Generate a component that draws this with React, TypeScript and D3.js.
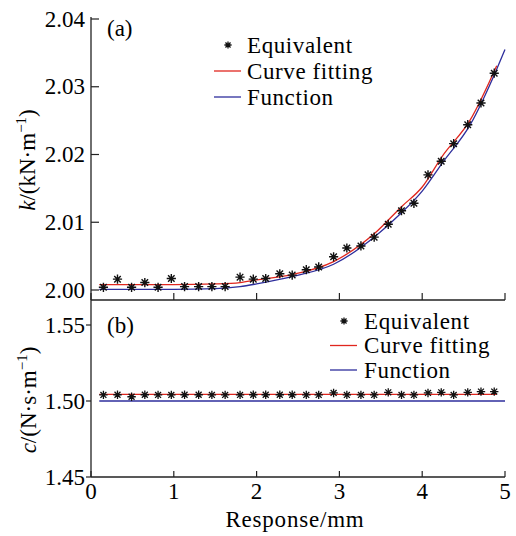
import React from 'react';
import * as d3 from 'd3';

// response positions of the "equivalent" samples (mm)
const X_EQ = [0.15, 0.32, 0.49, 0.65, 0.81, 0.97, 1.13, 1.30, 1.46, 1.62, 1.80, 1.96, 2.11, 2.28, 2.43, 2.60, 2.75, 2.93, 3.09, 3.26, 3.42, 3.59, 3.75, 3.90, 4.07, 4.23, 4.38, 4.55, 4.71, 4.87];
const K_EQ = [2.0004, 2.0016, 2.0004, 2.0011, 2.0004, 2.0017, 2.0005, 2.0005, 2.0005, 2.0005, 2.0019, 2.0016, 2.0017, 2.0024, 2.0022, 2.0030, 2.0034, 2.0049, 2.0062, 2.0065, 2.0078, 2.0097, 2.0117, 2.0128, 2.0170, 2.0190, 2.0216, 2.0244, 2.0276, 2.0320];
const C_EQ = [1.5040, 1.5041, 1.5028, 1.5041, 1.5040, 1.5040, 1.5041, 1.5041, 1.5040, 1.5040, 1.5040, 1.5041, 1.5041, 1.5041, 1.5041, 1.5040, 1.5040, 1.5053, 1.5040, 1.5040, 1.5040, 1.5057, 1.5040, 1.5040, 1.5053, 1.5057, 1.5040, 1.5057, 1.5062, 1.5062];

// curve fitting (red) and function (blue)
const K_FIT_X = [0.1, 0.5, 1.0, 1.5, 1.8, 2.0, 2.44, 2.93, 3.43, 3.75, 4.0, 4.24, 4.58, 4.9];
const K_FIT = [2.0008, 2.0008, 2.0008, 2.0009, 2.0011, 2.0015, 2.0023, 2.0042, 2.0084, 2.0123, 2.0152, 2.0197, 2.0251, 2.0331];
const K_FUNC_X = [0.1, 0.5, 1.0, 1.5, 1.8, 2.0, 2.44, 2.93, 3.43, 3.75, 4.0, 4.24, 4.58, 4.9, 5.0];
const K_FUNC = [2.0001, 2.0001, 2.0001, 2.0002, 2.0005, 2.0009, 2.0020, 2.0038, 2.0079, 2.0114, 2.0146, 2.0187, 2.0244, 2.0326, 2.0355];
const C_FIT_X = [0.1, 4.9];
const C_FIT = [1.5043, 1.5043];
const C_FUNC_X = [0.1, 5.0];
const C_FUNC = [1.5, 1.5];

const X_TICKS = [0, 1, 2, 3, 4, 5];
const K_TICKS = [2.0, 2.01, 2.02, 2.03, 2.04];
const C_TICKS = [1.45, 1.5, 1.55];
const LEGEND = ['Equivalent', 'Curve fitting', 'Function'];

const RED = '#e0261e';
const BLUE = '#2e2e9c';
const AX = '#222';
const FS = 23;
const TXT = { fontFamily: 'Liberation Serif', fontSize: FS };

const x = d3.scaleLinear().domain([0, 5]).range([91, 505]);
const yK = d3.scaleLinear().domain([2.0, 2.04]).range([290, 19]);
const yC = d3.scaleLinear().domain([1.45, 1.55]).range([477, 325]);

function starPath(cx: number, cy: number, r: number) {
  const d = r * 0.7071;
  return `M${cx - r},${cy}H${cx + r}M${cx},${cy - r}V${cy + r}M${cx - d},${cy - d}L${cx + d},${cy + d}M${cx - d},${cy + d}L${cx + d},${cy - d}`;
}

function line(xs: number[], ys: number[], yScale: d3.ScaleLinear<number, number>) {
  return d3.line<number>().x((_, i) => x(xs[i])).y(v => yScale(v)).curve(d3.curveMonotoneX)(ys) || '';
}

// legend placements: [marker x, text x, first row y, row step]
const LEG_POS = [[214, 247, 45, 26], [330, 364, 321, 24.5]];

export default function App() {
  return (
    <svg width={516} height={536} style={{ position: 'absolute', left: 0, top: 0, background: '#fff' }}>
      <style>{`text { font-family: 'Liberation Serif', 'Times New Roman', serif; }`}</style>
      <line x1={91} x2={91} y1={17} y2={477} stroke={AX} strokeWidth={1.3} />
      <line x1={91} x2={505} y1={300} y2={300} stroke={AX} strokeWidth={1.3} />
      <line x1={91} x2={505} y1={477} y2={477} stroke={AX} strokeWidth={1.3} />
      {K_TICKS.map(t => <line key={'kt' + t} x1={91} x2={99} y1={yK(t)} y2={yK(t)} stroke={AX} strokeWidth={1.2} />)}
      {K_TICKS.map(t => (
        <text key={'kl' + t} x={85} y={yK(t)} dy="0.33em" textAnchor="end" style={TXT}>{t.toFixed(2)}</text>
      ))}
      {X_TICKS.map(t => <line key={'xa' + t} x1={x(t)} x2={x(t)} y1={300} y2={293} stroke={AX} strokeWidth={1.2} />)}
      {X_TICKS.map(t => <line key={'xb' + t} x1={x(t)} x2={x(t)} y1={477} y2={471} stroke={AX} strokeWidth={1.2} />)}
      {X_TICKS.map(t => (
        <text key={'xl' + t} x={x(t)} y={491} dy="0.33em" textAnchor="middle" style={TXT}>{t}</text>
      ))}
      {C_TICKS.map(t => <line key={'ct' + t} x1={86} x2={91} y1={yC(t)} y2={yC(t)} stroke={AX} strokeWidth={1.2} />)}
      {C_TICKS.map(t => (
        <text key={'cl' + t} x={85} y={yC(t)} dy="0.33em" textAnchor="end" style={TXT}>{t.toFixed(2)}</text>
      ))}

      <path d={line(K_FUNC_X, K_FUNC, yK)} fill="none" stroke={BLUE} strokeWidth={1.3} />
      <path d={line(K_FIT_X, K_FIT, yK)} fill="none" stroke={RED} strokeWidth={1.3} />
      {X_EQ.map((v, i) => (
        <path key={'ks' + i} d={starPath(x(v), yK(K_EQ[i]), 4.6)} stroke="#111" strokeWidth={1.4} />
      ))}

      <path d={line(C_FUNC_X, C_FUNC, yC)} fill="none" stroke={BLUE} strokeWidth={1.3} />
      <path d={line(C_FIT_X, C_FIT, yC)} fill="none" stroke={RED} strokeWidth={1.3} />
      {X_EQ.map((v, i) => (
        <path key={'cs' + i} d={starPath(x(v), yC(C_EQ[i]), 4.2)} stroke="#111" strokeWidth={1.3} />
      ))}

      <text x={107} y={28} dy="0.33em" style={TXT}>(a)</text>
      <text x={107} y={325} dy="0.33em" style={TXT}>(b)</text>

      {LEG_POS.map(([sx, , y0], j) => <path key={'lm' + j} d={starPath(sx + 14, y0, 3.6)} stroke="#111" strokeWidth={1.3} />)}
      {LEG_POS.map(([sx, , y0, dy], j) => <line key={'lr' + j} x1={sx} x2={sx + 27} y1={y0 + dy} y2={y0 + dy} stroke={RED} strokeWidth={1.3} />)}
      {LEG_POS.map(([sx, , y0, dy], j) => <line key={'lb' + j} x1={sx} x2={sx + 27} y1={y0 + 2 * dy} y2={y0 + 2 * dy} stroke={BLUE} strokeWidth={1.3} />)}
      {LEG_POS.flatMap(([, tx, y0, dy], j) => LEGEND.map((t, i) => (
        <text key={'lt' + j + i} x={tx} y={y0 + i * dy} dy="0.33em" letterSpacing={0.6} style={TXT}>{t}</text>
      )))}

      <text transform="translate(27,160) rotate(-90)" textAnchor="middle" dy="0.33em" style={TXT}>
        <tspan fontStyle="italic">k</tspan>/(kN·m<tspan fontSize={15} dy={-9}>−1</tspan><tspan dy={9}>)</tspan>
      </text>
      <text transform="translate(28,400) rotate(-90)" textAnchor="middle" dy="0.33em" style={TXT}>
        <tspan fontStyle="italic">c</tspan>/(N·s·m<tspan fontSize={15} dy={-9}>−1</tspan><tspan dy={9}>)</tspan>
      </text>
      <text x={295} y={519} dy="0.33em" textAnchor="middle" letterSpacing={0.8} style={TXT}>Response/mm</text>
    </svg>
  );
}
